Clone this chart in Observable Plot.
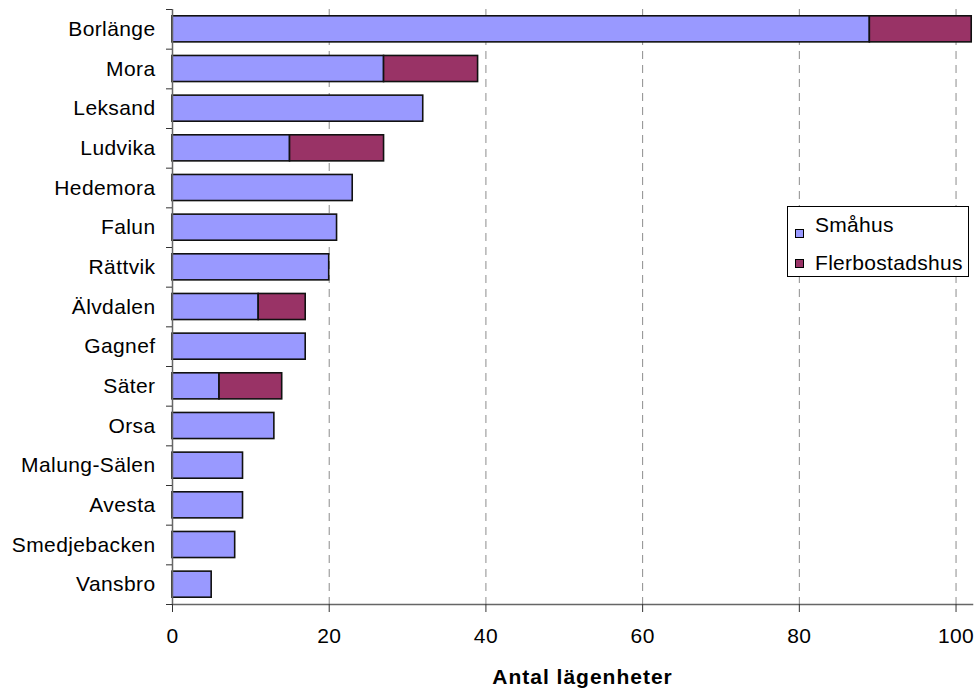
<!DOCTYPE html>
<html>
<head>
<meta charset="utf-8">
<script src="https://cdn.jsdelivr.net/npm/d3@7"></script>
<script src="https://cdn.jsdelivr.net/npm/@observablehq/plot@0.6"></script>
<style>
  body { margin: 0; background: #fff; font-family: "Liberation Sans", Arial, sans-serif; }
  #wrap { position: relative; width: 980px; height: 688px; }
  #wrap svg text { letter-spacing: 0.4px; }
  .legend { position: absolute; left: 787px; top: 206px; width: 182px; height: 71px;
            box-sizing: border-box; border: 1px solid #000; background: #fff; }
  .legend .sw { position: absolute; left: 7px; width: 9px; height: 9px; box-sizing: border-box; border: 1px solid #000; }
  .legend .lb { position: absolute; left: 27px; font-size: 21px; line-height: 21px; white-space: nowrap; letter-spacing: 0.3px; }
</style>
</head>
<body>
<div id="wrap"></div>
<script>
// Nya lägenheter per kommun, uppdelat på hustyp
const municipalities = ["Borlänge", "Mora", "Leksand", "Ludvika", "Hedemora", "Falun", "Rättvik",
  "Älvdalen", "Gagnef", "Säter", "Orsa", "Malung-Sälen", "Avesta", "Smedjebacken", "Vansbro"];
const smahus =         [89, 27, 32, 15, 23, 21, 20, 11, 17, 6, 13, 9, 9, 8, 5];
const flerbostadshus = [13, 12,  0, 12,  0,  0,  0,  6,  0, 8,  0, 0, 0, 0, 0];
const seriesNames = ["Småhus", "Flerbostadshus"];
const seriesColors = ["#9999ff", "#993366"];
const xTicks = [0, 20, 40, 60, 80, 100];
const xTitle = "Antal lägenheter";

// Long table for stacking: all Småhus segments first, then Flerbostadshus
const rows = [];
[smahus, flerbostadshus].forEach((values, s) => {
  municipalities.forEach((m, i) => {
    if (values[i] > 0) rows.push({municipality: m, series: seriesNames[s], value: values[i]});
  });
});

const W = 980, H = 688, mT = 9, mB = 84, mL = 172, mR = 8;
const step = (H - mT - mB) / municipalities.length;
const axisGray = "#666";
const noText = () => "";

const chart = Plot.plot({
  width: W, height: H,
  marginTop: mT, marginBottom: mB, marginLeft: mL, marginRight: mR,
  style: {fontFamily: "'Liberation Sans', Arial, sans-serif", fontSize: "21px", color: "#000", background: "#fff"},
  x: {domain: [0, 102.1]},
  y: {domain: municipalities, padding: 0, round: false},
  color: {domain: seriesNames, range: seriesColors},
  marks: [
    Plot.gridX({ticks: xTicks.filter(d => d > 0), stroke: "#8c8c8c", strokeOpacity: 1, strokeDasharray: "8,6"}),
    Plot.barX(rows, {x: "value", y: "municipality", fill: "series", stroke: "#111", strokeWidth: 1.6,
      insetTop: 6.8, insetBottom: 6.8}),
    Plot.ruleX([0], {stroke: axisGray, strokeWidth: 1.5}),
    Plot.frame({anchor: "bottom", stroke: axisGray, strokeWidth: 1.5}),
    Plot.axisX({ticks: xTicks, tickSize: 8, tickPadding: 16, label: null, stroke: "#333", fill: "#000"}),
    // category names centred in each band
    Plot.axisY({tickSize: 0, tickPadding: 17, label: null, fill: "#000"}),
    // tick marks on the band boundaries
    Plot.axisY({tickSize: 6, tickFormat: noText, dy: -step / 2, label: null, stroke: "#333"}),
    Plot.axisY({ticks: [municipalities[municipalities.length - 1]], tickSize: 6, tickFormat: noText,
      dy: step / 2, label: null, stroke: "#333"}),
    Plot.text([xTitle], {frameAnchor: "bottom", dy: 73, dx: 10, lineAnchor: "middle",
      fontWeight: "bold", fontSize: 21, fill: "#000"})
  ]
});

const wrap = document.getElementById("wrap");
wrap.appendChild(chart);
chart.querySelectorAll("text").forEach(t => {
  if (t.textContent === xTitle) t.style.letterSpacing = "1px";
});

// Legend box inside the plot area
const legend = document.createElement("div");
legend.className = "legend";
const swTops = [22, 52], lbTops = [7, 45];
seriesNames.forEach((name, i) => {
  const sw = document.createElement("div");
  sw.className = "sw";
  sw.style.top = swTops[i] + "px";
  sw.style.background = seriesColors[i];
  const lb = document.createElement("div");
  lb.className = "lb";
  lb.style.top = lbTops[i] + "px";
  lb.textContent = name;
  legend.appendChild(sw);
  legend.appendChild(lb);
});
wrap.appendChild(legend);
</script>
</body>
</html>
